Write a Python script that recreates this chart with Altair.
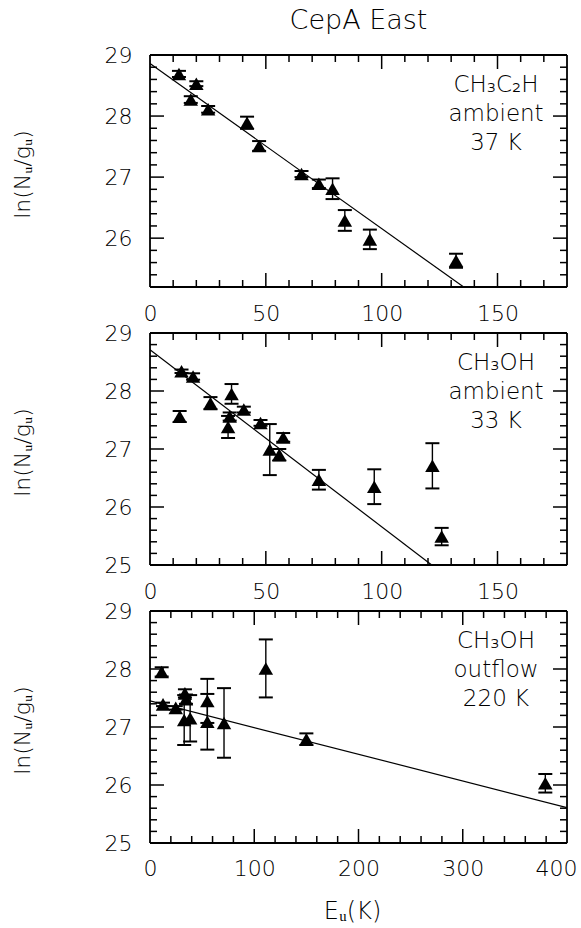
import altair as alt
import pandas as pd

# ---------------- data ----------------
# Panel 1: CH3C2H ambient (37 K)
p1_eu = [12.5, 20.0, 17.6, 25.1, 41.9, 47.1, 65.4, 72.9, 78.8, 84.1, 94.9, 132.1]
p1_ln = [28.69, 28.53, 28.27, 28.11, 27.89, 27.51, 27.05, 26.89, 26.81, 26.29, 25.98, 25.63]
p1_err = [0.05, 0.04, 0.055, 0.055, 0.10, 0.08, 0.05, 0.07, 0.17, 0.17, 0.16, 0.115]
p1_fit_eu = [0, 135.4]
p1_fit_ln = [28.86, 25.2]

# Panel 2: CH3OH ambient (33 K)
p2_eu = [13.6, 18.6, 12.8, 26.1, 35.2, 34.4, 33.7, 40.5, 47.7, 51.7, 55.8, 57.5, 72.9, 96.8, 121.9, 125.9]
p2_ln = [28.34, 28.25, 27.56, 27.79, 27.95, 27.56, 27.38, 27.68, 27.45, 26.99, 26.90, 27.20, 26.47, 26.35, 26.71, 25.49]
p2_err = [0.03, 0.055, 0.095, 0.105, 0.17, 0.07, 0.19, 0.05, 0.05, 0.44, 0.10, 0.075, 0.17, 0.30, 0.39, 0.15]
p2_fit_eu = [0, 121.6]
p2_fit_ln = [28.71, 25.0]

# Panel 3: CH3OH outflow (220 K)
p3_eu = [11.2, 12.5, 24.7, 33.5, 34.5, 32.8, 38.5, 55.0, 55.0, 71.0, 111.1, 150.0, 379.2]
p3_ln = [27.95, 27.39, 27.33, 27.58, 27.48, 27.12, 27.15, 27.45, 27.09, 27.07, 28.01, 26.79, 26.03]
p3_err = [0.08, 0.03, 0.03, 0.07, 0.08, 0.43, 0.40, 0.38, 0.48, 0.60, 0.50, 0.10, 0.16]
p3_fit_eu = [0, 400]
p3_fit_ln = [27.45, 25.61]

# axis tick labels and tick marks
x_labels_small = [0, 50, 100, 150]
x_major_small = [50, 100, 150]
x_minor_small = [10, 20, 30, 40, 60, 70, 80, 90, 110, 120, 130, 140, 160, 170]
x_labels_big = [0, 100, 200, 300, 400]
x_major_big = [100, 200, 300]
x_minor_big = [20, 40, 60, 80, 120, 140, 160, 180, 220, 240, 260, 280, 320, 340, 360, 380]
y_labels_1 = [26, 27, 28, 29]
y_labels_23 = [25, 26, 27, 28, 29]
y_major = [26, 27, 28]
y_minor_1 = [25.4, 25.6, 25.8, 26.2, 26.4, 26.6, 26.8, 27.2, 27.4, 27.6, 27.8, 28.2, 28.4, 28.6, 28.8]
y_minor_23 = [25.2, 25.4, 25.6, 25.8, 26.2, 26.4, 26.6, 26.8, 27.2, 27.4, 27.6, 27.8, 28.2, 28.4, 28.6, 28.8]

labels_1 = ["CH₃C₂H", "ambient", "37 K"]
labels_2 = ["CH₃OH", "ambient", "33 K"]
labels_3 = ["CH₃OH", "outflow", "220 K"]
title_text = "CepA East"
y_title = "ln(Nᵤ/gᵤ)"
x_title = "Eᵤ(K)"

# ---------------- styling ----------------
FONT = "DejaVu Sans"
W, H = 417, 232
MAJ, MIN = 14, 7
TW = 1.5
TICK_COLOR = "black"


def panel(eu, ln, err, fit_eu, fit_ln, xdom, ydom, xlabels, xmaj, xmin,
          ylabels, ymin, lines, bottom=False, title=None):
    xs = alt.Scale(domain=xdom, nice=False, zero=False)
    ys = alt.Scale(domain=ydom, nice=False, zero=False)
    xaxis = alt.Axis(
        values=xlabels, ticks=False, domain=False, grid=False,
        labelFont=FONT, labelFontSize=22, labelFontWeight=200, labelColor="black",
        labelPadding=15 if bottom else 16, labelFlush=False, labelOverlap=False,
        labelOffset=alt.expr("datum.value >= 400 ? -11 : 0"),
        title=x_title if bottom else None,
        titleFont=FONT, titleFontSize=24, titleFontWeight=200, titleColor="black",
        titleX=202, titleY=75, titleBaseline="alphabetic", titleAlign="center",
    )
    yaxis = alt.Axis(
        values=ylabels, ticks=False, domain=False, grid=False,
        labelFont=FONT, labelFontSize=22, labelFontWeight=200, labelColor="black",
        labelPadding=18, labelFlush=False, labelOverlap=False,
        title=y_title, titleFont=FONT, titleFontSize=22, titleFontWeight=200,
        titleColor="black", titleAngle=270, titleX=-128, titleY=119,
        titleAlign="center", titleBaseline="middle",
    )
    X = lambda f: alt.X(f, type="quantitative", scale=xs, axis=xaxis)
    Y = lambda f: alt.Y(f, type="quantitative", scale=ys, axis=yaxis)

    df = pd.DataFrame({"eu": eu, "ln": ln, "err": err})
    df["lo"] = df["ln"] - df["err"]
    df["hi"] = df["ln"] + df["err"]
    fit = pd.DataFrame({"eu": fit_eu, "ln": fit_ln})

    layers = []
    # ticks on all four sides, pointing inward
    for vals, L in ((xmaj, MAJ), (xmin, MIN)):
        t = pd.DataFrame({"v": vals})
        layers.append(alt.Chart(t).mark_rule(color=TICK_COLOR, strokeWidth=TW).encode(
            x=X("v"), y=alt.value(H), y2=alt.value(H - L)))
        layers.append(alt.Chart(t).mark_rule(color=TICK_COLOR, strokeWidth=TW).encode(
            x=X("v"), y=alt.value(0), y2=alt.value(L)))
    for vals, L in ((y_major, MAJ), (ymin, MIN)):
        t = pd.DataFrame({"v": vals})
        layers.append(alt.Chart(t).mark_rule(color=TICK_COLOR, strokeWidth=TW).encode(
            y=Y("v"), x=alt.value(0), x2=alt.value(L)))
        layers.append(alt.Chart(t).mark_rule(color=TICK_COLOR, strokeWidth=TW).encode(
            y=Y("v"), x=alt.value(W), x2=alt.value(W - L)))

    base = alt.Chart(df)
    layers.append(base.mark_rule(color="black", strokeWidth=1.4).encode(
        x=X("eu"), y=Y("lo"), y2=alt.Y2("hi")))
    for f in ("lo", "hi"):
        layers.append(base.mark_rule(color="black", strokeWidth=2, xOffset=-7, x2Offset=7).encode(
            x=X("eu"), x2=alt.X2("eu"), y=Y(f)))
    layers.append(alt.Chart(fit).mark_line(color="black", strokeWidth=1.2, clip=True).encode(
        x=X("eu"), y=Y("ln")))
    layers.append(base.mark_point(shape="triangle-up", filled=True, color="black",
                                  opacity=1, size=210).encode(x=X("eu"), y=Y("ln")))

    # frame (four sides)
    one = pd.DataFrame({"k": [0]})
    fr = dict(color="black", strokeWidth=1.8)
    layers.append(alt.Chart(one).mark_rule(**fr).encode(
        x=alt.value(0), x2=alt.value(W), y=alt.value(0)))
    layers.append(alt.Chart(one).mark_rule(**fr).encode(
        x=alt.value(0), x2=alt.value(W), y=alt.value(H)))
    layers.append(alt.Chart(one).mark_rule(**fr).encode(
        y=alt.value(0), y2=alt.value(H), x=alt.value(0)))
    layers.append(alt.Chart(one).mark_rule(**fr).encode(
        y=alt.value(0), y2=alt.value(H), x=alt.value(W)))

    # labels inside the panel
    tl = pd.DataFrame({"t": lines, "py": [37, 66, 95]})
    layers.append(alt.Chart(tl).mark_text(font=FONT, fontSize=23, fontWeight=200, color="black",
                                          align="center", baseline="alphabetic").encode(
        text="t:N", x=alt.value(346), y=alt.Y("py:Q", scale=None)))
    if title:
        layers.append(alt.Chart(pd.DataFrame({"t": [title]})).mark_text(
            font=FONT, fontSize=27, fontWeight=200, color="black",
            align="center", baseline="alphabetic").encode(
            text="t:N", x=alt.value(W / 2), y=alt.value(-26)))

    return alt.layer(*layers).properties(width=W, height=H)


c1 = panel(p1_eu, p1_ln, p1_err, p1_fit_eu, p1_fit_ln, [0, 180], [25.2, 29],
           x_labels_small, x_major_small, x_minor_small, y_labels_1, y_minor_1,
           labels_1, title=title_text)
c2 = panel(p2_eu, p2_ln, p2_err, p2_fit_eu, p2_fit_ln, [0, 180], [25, 29],
           x_labels_small, x_major_small, x_minor_small, y_labels_23, y_minor_23,
           labels_2)
c3 = panel(p3_eu, p3_ln, p3_err, p3_fit_eu, p3_fit_ln, [0, 400], [25, 29],
           x_labels_big, x_major_big, x_minor_big, y_labels_23, y_minor_23,
           labels_3, bottom=True)

chart = alt.vconcat(c1, c2, c3, spacing=46, bounds="flush").properties(
    padding={"left": 10, "top": 6, "right": 3, "bottom": 2}
).configure_view(stroke=None).configure(background="white")

chart.save("out.html", embed_options={"renderer": "svg", "actions": False})
